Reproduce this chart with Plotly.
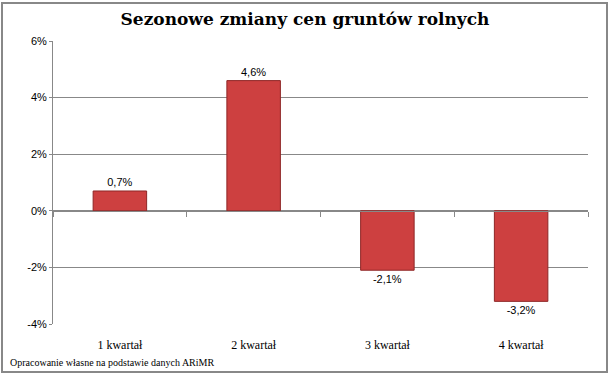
import plotly.graph_objects as go

categories = ["1 kwartał", "2 kwartał", "3 kwartał", "4 kwartał"]
values = [0.7, 4.6, -2.1, -3.2]
labels = [f"{v:.1f}%".replace(".", ",") for v in values]
y_ticks = [-4, -2, 0, 2, 4, 6]
y_ticktext = [f"{v}%" for v in y_ticks]

W, H = 610, 376
L, R, T, B = 53, 22, 41, 52

fig = go.Figure()
fig.add_trace(go.Bar(
    x=categories, y=values, text=labels, textposition="outside",
    textfont=dict(family="Liberation Sans", size=11, color="#000"),
    marker=dict(color="#CD4040", line=dict(color="#8E2626", width=1)),
    width=0.4, cliponaxis=False, hoverinfo="skip",
))
# invisible trace on xaxis2 (boundary ticks on the zero line)
fig.add_trace(go.Scatter(x=categories, y=[0] * 4, xaxis="x2", yaxis="y",
                         mode="markers", marker=dict(opacity=0),
                         showlegend=False, hoverinfo="skip"))

fig.update_layout(
    width=W, height=H,
    margin=dict(l=L, r=R, t=T, b=B, pad=0),
    paper_bgcolor="white", plot_bgcolor="white",
    showlegend=False,
    title=dict(text="<b>Sezonowe zmiany cen gruntów rolnych</b>",
               x=0.5, xanchor="center", y=1 - 19 / H, yanchor="middle",
               font=dict(family="DejaVu Serif", size=17, color="#000")),
    xaxis=dict(type="category", categoryarray=categories, range=[-0.5, 3.5],
               showline=False, showgrid=False, ticks="", zeroline=False,
               ticklabelstandoff=12,
               tickfont=dict(family="Liberation Serif", size=12, color="#000")),
    xaxis2=dict(type="category", categoryarray=categories, range=[-0.5, 3.5],
                overlaying="x", matches="x", anchor="free", position=0.4,
                tickson="boundaries", ticks="outside", ticklen=5, tickcolor="#888",
                showticklabels=False, showline=True, linecolor="#888", linewidth=1,
                showgrid=False, zeroline=False),
    yaxis=dict(type="linear", range=[-4, 6], tickmode="array",
               tickvals=y_ticks, ticktext=y_ticktext,
               showgrid=True, gridcolor="#888", gridwidth=1,
               showline=True, linecolor="#888", linewidth=1,
               ticks="outside", ticklen=3, tickcolor="#888",
               zeroline=False,
               tickfont=dict(family="Liberation Sans", size=11, color="#000")),
    annotations=[dict(text="Opracowanie własne na podstawie danych ARiMR",
                      xref="paper", yref="paper", x=-(L - 8) / (W - L - R),
                      y=-(362 - (H - B)) / (H - T - B), xanchor="left", yanchor="middle",
                      showarrow=False,
                      font=dict(family="Liberation Serif", size=10, color="#000"))],
    shapes=[dict(type="rect", xref="paper", yref="paper", layer="above",
                 x0=-(L - 2) / (W - L - R), x1=1 + (607 - (W - R)) / (W - L - R),
                 y0=-(372 - (H - B)) / (H - T - B), y1=1 + (T - 3) / (H - T - B),
                 line=dict(color="#888", width=2))],
)

fig.write_html("out.html", config={"displayModeBar": False},
               post_script="document.body.style.margin='0';")
